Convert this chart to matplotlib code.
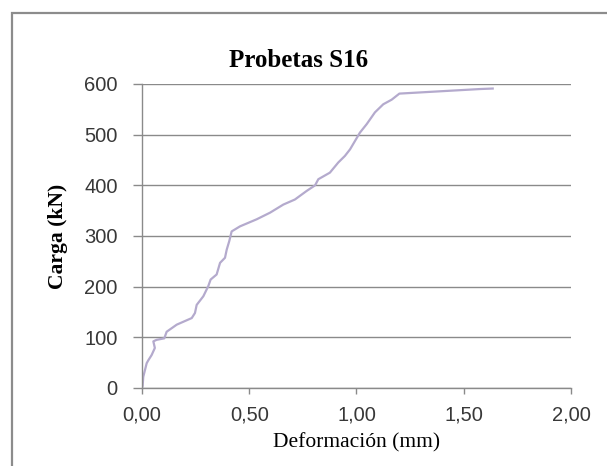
import matplotlib
matplotlib.use("Agg")
import matplotlib.pyplot as plt
from matplotlib.patches import Rectangle

plt.rcParams['font.family'] = ['Liberation Serif', 'DejaVu Serif']

# ensayo probeta S16: deformación (mm) vs carga (kN)
deformacion = [0.0, 0.003, 0.006, 0.022, 0.03, 0.045, 0.06, 0.053, 0.068, 0.104,
               0.115, 0.162, 0.232, 0.247, 0.255, 0.286, 0.309, 0.32, 0.348, 0.364,
               0.387, 0.395, 0.407, 0.418, 0.457, 0.535, 0.597, 0.659, 0.713, 0.768,
               0.807, 0.822, 0.876, 0.915, 0.946, 0.970, 1.016, 1.048, 1.086, 1.125,
               1.164, 1.2, 1.576, 1.635]
carga = [0, 4, 22, 49, 55, 65, 79, 92, 95, 98,
         111, 125, 138, 148, 164, 181, 201, 214, 224, 247,
         257, 273, 290, 309, 319, 333, 346, 362, 372, 389,
         400, 412, 425, 445, 458, 471, 504, 521, 544, 560,
         569, 581, 590, 591]

xticks = [0.0, 0.5, 1.0, 1.5, 2.0]
xtick_labels = ["0,00", "0,50", "1,00", "1,50", "2,00"]
yticks = [0, 100, 200, 300, 400, 500, 600]

grid_gray = "#8a8a8a"

fig = plt.figure(figsize=(6.07, 4.66), dpi=100)
ax = fig.add_axes([0.2339, 0.1674, 0.7068, 0.6524])

ax.plot(deformacion, carga, color="#b4aacd", linewidth=1.6, solid_joinstyle="round")

ax.set_xlim(0, 2.0)
ax.set_ylim(0, 600)
ax.set_xticks(xticks)
ax.set_xticklabels(xtick_labels)
ax.set_yticks(yticks)

ax.yaxis.grid(True, color=grid_gray, linewidth=1.0)
ax.set_axisbelow(True)
for s in ["top", "right"]:
    ax.spines[s].set_visible(False)
for s in ["left", "bottom"]:
    ax.spines[s].set_color(grid_gray)
    ax.spines[s].set_linewidth(1.0)

# etiquetas de los ejes en sans, algo más claras
for lab in ax.get_xticklabels() + ax.get_yticklabels():
    lab.set_family("Liberation Sans")
ax.tick_params(axis="y", direction="out", length=6.5, width=1.0, color=grid_gray,
               labelsize=14.5, pad=11, labelcolor="#383838")
ax.tick_params(axis="x", direction="out", length=4.5, width=1.0, color=grid_gray,
               labelsize=14.5, pad=8, labelcolor="#383838")

ax.set_title("Probetas S16", fontsize=18, fontweight="bold", pad=12, x=0.365)
ax.set_xlabel("Deformación (mm)", fontsize=15.5, labelpad=6)
ax.set_ylabel("Carga (kN)", fontsize=15.5, fontweight="bold", labelpad=12)

# marco gris del gráfico
fig.patches.append(Rectangle((12 / 607, -0.05), 1.2, (466 - 13) / 466 + 0.05,
                             transform=fig.transFigure, fill=False,
                             edgecolor="#8c8c8c", linewidth=1.6))

fig.savefig("out.png", dpi=100)
